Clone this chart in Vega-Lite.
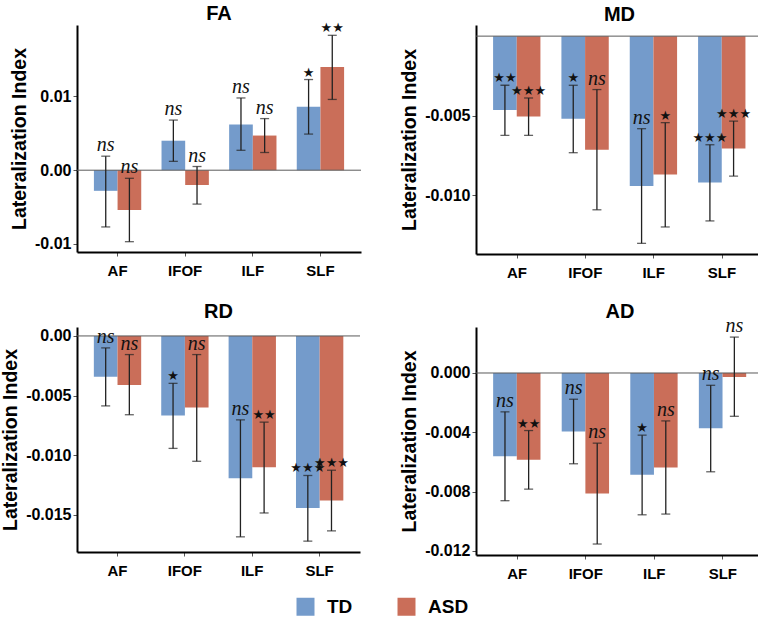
{
  "$schema": "https://vega.github.io/schema/vega-lite/v6.json",
  "background": "white",
  "padding": {"left": 0, "top": 4, "right": 0, "bottom": 0},
  "columns": 2,
  "spacing": {"column": 37, "row": 21},
  "datasets": {
    "li": [
      {"measure": "FA", "tract": "AF", "group": "TD", "mean": -0.0028, "lo": -0.0077, "hi": 0.0019, "sig": "ns"},
      {"measure": "FA", "tract": "AF", "group": "ASD", "mean": -0.0054, "lo": -0.0097, "hi": -0.0011, "sig": "ns"},
      {"measure": "FA", "tract": "IFOF", "group": "TD", "mean": 0.0040, "lo": 0.0012, "hi": 0.0068, "sig": "ns"},
      {"measure": "FA", "tract": "IFOF", "group": "ASD", "mean": -0.0020, "lo": -0.0046, "hi": 0.0005, "sig": "ns"},
      {"measure": "FA", "tract": "ILF", "group": "TD", "mean": 0.0062, "lo": 0.0027, "hi": 0.0098, "sig": "ns"},
      {"measure": "FA", "tract": "ILF", "group": "ASD", "mean": 0.0047, "lo": 0.0024, "hi": 0.0070, "sig": "ns"},
      {"measure": "FA", "tract": "SLF", "group": "TD", "mean": 0.0086, "lo": 0.0049, "hi": 0.0123, "sig": "★"},
      {"measure": "FA", "tract": "SLF", "group": "ASD", "mean": 0.0140, "lo": 0.0096, "hi": 0.0183, "sig": "★★"},
      {"measure": "MD", "tract": "AF", "group": "TD", "mean": -0.00464, "lo": -0.00624, "hi": -0.00309, "sig": "★★"},
      {"measure": "MD", "tract": "AF", "group": "ASD", "mean": -0.00506, "lo": -0.00624, "hi": -0.00389, "sig": "★★★"},
      {"measure": "MD", "tract": "IFOF", "group": "TD", "mean": -0.00519, "lo": -0.00733, "hi": -0.00309, "sig": "★"},
      {"measure": "MD", "tract": "IFOF", "group": "ASD", "mean": -0.00714, "lo": -0.01092, "hi": -0.00336, "sig": "ns"},
      {"measure": "MD", "tract": "ILF", "group": "TD", "mean": -0.00943, "lo": -0.01303, "hi": -0.00582, "sig": "ns"},
      {"measure": "MD", "tract": "ILF", "group": "ASD", "mean": -0.00870, "lo": -0.01200, "hi": -0.00544, "sig": "★"},
      {"measure": "MD", "tract": "SLF", "group": "TD", "mean": -0.00920, "lo": -0.01162, "hi": -0.00683, "sig": "★★★"},
      {"measure": "MD", "tract": "SLF", "group": "ASD", "mean": -0.00706, "lo": -0.00880, "hi": -0.00534, "sig": "★★★"},
      {"measure": "RD", "tract": "AF", "group": "TD", "mean": -0.00342, "lo": -0.00586, "hi": -0.00100, "sig": "ns"},
      {"measure": "RD", "tract": "AF", "group": "ASD", "mean": -0.00411, "lo": -0.00660, "hi": -0.00156, "sig": "ns"},
      {"measure": "RD", "tract": "IFOF", "group": "TD", "mean": -0.00667, "lo": -0.00942, "hi": -0.00397, "sig": "★"},
      {"measure": "RD", "tract": "IFOF", "group": "ASD", "mean": -0.00600, "lo": -0.01050, "hi": -0.00156, "sig": "ns"},
      {"measure": "RD", "tract": "ILF", "group": "TD", "mean": -0.01192, "lo": -0.01683, "hi": -0.00703, "sig": "ns"},
      {"measure": "RD", "tract": "ILF", "group": "ASD", "mean": -0.01100, "lo": -0.01483, "hi": -0.00722, "sig": "★★"},
      {"measure": "RD", "tract": "SLF", "group": "TD", "mean": -0.01442, "lo": -0.01719, "hi": -0.01169, "sig": "★★★"},
      {"measure": "RD", "tract": "SLF", "group": "ASD", "mean": -0.01378, "lo": -0.01633, "hi": -0.01125, "sig": "★★★"},
      {"measure": "AD", "tract": "AF", "group": "TD", "mean": -0.00561, "lo": -0.00861, "hi": -0.00262, "sig": "ns"},
      {"measure": "AD", "tract": "AF", "group": "ASD", "mean": -0.00585, "lo": -0.00783, "hi": -0.00388, "sig": "★★"},
      {"measure": "AD", "tract": "IFOF", "group": "TD", "mean": -0.00395, "lo": -0.00612, "hi": -0.00177, "sig": "ns"},
      {"measure": "AD", "tract": "IFOF", "group": "ASD", "mean": -0.00812, "lo": -0.01153, "hi": -0.00473, "sig": "ns"},
      {"measure": "AD", "tract": "ILF", "group": "TD", "mean": -0.00686, "lo": -0.00956, "hi": -0.00419, "sig": "★"},
      {"measure": "AD", "tract": "ILF", "group": "ASD", "mean": -0.00637, "lo": -0.00951, "hi": -0.00323, "sig": "ns"},
      {"measure": "AD", "tract": "SLF", "group": "TD", "mean": -0.00372, "lo": -0.00666, "hi": -0.00083, "sig": "ns"},
      {"measure": "AD", "tract": "SLF", "group": "ASD", "mean": -0.00027, "lo": -0.00292, "hi": 0.00242, "sig": "ns"}
    ]
  },
  "concat": [
    {
      "title": {"text": "FA", "offset": -2},
      "width": 284, "height": 227,
      "data": {"name": "li"},
      "transform": [{"filter": {"field": "measure", "equal": "FA"}}],
      "layer": [
        {
          "mark": {"type": "bar"},
          "encoding": {
            "x": {"field": "tract", "type": "nominal", "sort": ["AF", "IFOF", "ILF", "SLF"], "scale": {"paddingInner": 0.3, "paddingOuter": 0.25}, "axis": {"title": null}},
            "xOffset": {"field": "group", "sort": ["TD", "ASD"], "scale": {"paddingInner": 0}},
            "y": {"field": "mean", "type": "quantitative", "scale": {"domain": [-0.0111, 0.0197], "nice": false, "zero": false}, "axis": {"title": "Lateralization Index", "values": [-0.01, 0, 0.01], "format": ".2f"}},
            "color": {"field": "group", "type": "nominal", "scale": {"domain": ["TD", "ASD"], "range": ["#749BCB", "#CA6E59"]},
              "legend": {"orient": "none", "direction": "horizontal", "legendX": 219, "legendY": 572, "title": null, "symbolType": "square", "symbolSize": 324, "symbolStrokeWidth": 0, "symbolOpacity": 1, "labelFont": "Liberation Sans", "labelFontWeight": "bold", "labelFontSize": 19, "labelColor": "#000", "labelOffset": 12, "columnPadding": 44}}
          }
        },
        {
          "data": {"values": [{"base": 0}]},
          "mark": {"type": "rule", "color": "#5a5a5a", "strokeWidth": 1},
          "encoding": {"y": {"field": "base", "type": "quantitative"}}
        },
        {
          "mark": {"type": "rule", "color": "#222", "strokeWidth": 1.3},
          "encoding": {
            "x": {"field": "tract", "type": "nominal", "sort": ["AF", "IFOF", "ILF", "SLF"]},
            "xOffset": {"field": "group", "sort": ["TD", "ASD"]},
            "y": {"field": "lo", "type": "quantitative"}, "y2": {"field": "hi"}
          }
        },
        {
          "mark": {"type": "tick", "color": "#222", "size": 9, "thickness": 1.3},
          "encoding": {
            "x": {"field": "tract", "type": "nominal", "sort": ["AF", "IFOF", "ILF", "SLF"]},
            "xOffset": {"field": "group", "sort": ["TD", "ASD"]},
            "y": {"field": "lo", "type": "quantitative"}
          }
        },
        {
          "mark": {"type": "tick", "color": "#222", "size": 9, "thickness": 1.3},
          "encoding": {
            "x": {"field": "tract", "type": "nominal", "sort": ["AF", "IFOF", "ILF", "SLF"]},
            "xOffset": {"field": "group", "sort": ["TD", "ASD"]},
            "y": {"field": "hi", "type": "quantitative"}
          }
        },
        {
          "transform": [{"filter": "datum.sig == 'ns'"}],
          "mark": {"type": "text", "font": "Liberation Serif", "fontStyle": "italic", "fontSize": 20, "baseline": "alphabetic", "dy": -5, "color": "#111"},
          "encoding": {
            "x": {"field": "tract", "type": "nominal", "sort": ["AF", "IFOF", "ILF", "SLF"]},
            "xOffset": {"field": "group", "sort": ["TD", "ASD"]},
            "y": {"field": "hi", "type": "quantitative"},
            "text": {"field": "sig"}
          }
        },
        {
          "transform": [{"filter": "datum.sig != 'ns'"}],
          "mark": {"type": "text", "font": "DejaVu Sans", "fontSize": 13, "baseline": "alphabetic", "dy": -3, "color": "#111"},
          "encoding": {
            "x": {"field": "tract", "type": "nominal", "sort": ["AF", "IFOF", "ILF", "SLF"]},
            "xOffset": {"field": "group", "sort": ["TD", "ASD"]},
            "y": {"field": "hi", "type": "quantitative"},
            "text": {"field": "sig"}
          }
        }
      ]
    },
    {
      "title": {"text": "MD", "offset": 0},
      "width": 287, "height": 229,
      "data": {"name": "li"},
      "transform": [{"filter": {"field": "measure", "equal": "MD"}}],
      "layer": [
        {
          "mark": {"type": "bar"},
          "encoding": {
            "x": {"field": "tract", "type": "nominal", "sort": ["AF", "IFOF", "ILF", "SLF"], "scale": {"paddingInner": 0.3, "paddingOuter": 0.25}, "axis": {"title": null}},
            "xOffset": {"field": "group", "sort": ["TD", "ASD"], "scale": {"paddingInner": 0}},
            "y": {"field": "mean", "type": "quantitative", "scale": {"domain": [-0.0137, 0.0007], "nice": false, "zero": false}, "axis": {"title": "Lateralization Index", "values": [-0.01, -0.005], "format": ".3f"}},
            "color": {"field": "group", "type": "nominal"}
          }
        },
        {
          "data": {"values": [{"base": 0}]},
          "mark": {"type": "rule", "color": "#5a5a5a", "strokeWidth": 1},
          "encoding": {"y": {"field": "base", "type": "quantitative"}}
        },
        {
          "mark": {"type": "rule", "color": "#222", "strokeWidth": 1.3},
          "encoding": {
            "x": {"field": "tract", "type": "nominal", "sort": ["AF", "IFOF", "ILF", "SLF"]},
            "xOffset": {"field": "group", "sort": ["TD", "ASD"]},
            "y": {"field": "lo", "type": "quantitative"}, "y2": {"field": "hi"}
          }
        },
        {
          "mark": {"type": "tick", "color": "#222", "size": 9, "thickness": 1.3},
          "encoding": {
            "x": {"field": "tract", "type": "nominal", "sort": ["AF", "IFOF", "ILF", "SLF"]},
            "xOffset": {"field": "group", "sort": ["TD", "ASD"]},
            "y": {"field": "lo", "type": "quantitative"}
          }
        },
        {
          "mark": {"type": "tick", "color": "#222", "size": 9, "thickness": 1.3},
          "encoding": {
            "x": {"field": "tract", "type": "nominal", "sort": ["AF", "IFOF", "ILF", "SLF"]},
            "xOffset": {"field": "group", "sort": ["TD", "ASD"]},
            "y": {"field": "hi", "type": "quantitative"}
          }
        },
        {
          "transform": [{"filter": "datum.sig == 'ns'"}],
          "mark": {"type": "text", "font": "Liberation Serif", "fontStyle": "italic", "fontSize": 20, "baseline": "alphabetic", "dy": -5, "color": "#111"},
          "encoding": {
            "x": {"field": "tract", "type": "nominal", "sort": ["AF", "IFOF", "ILF", "SLF"]},
            "xOffset": {"field": "group", "sort": ["TD", "ASD"]},
            "y": {"field": "hi", "type": "quantitative"},
            "text": {"field": "sig"}
          }
        },
        {
          "transform": [{"filter": "datum.sig != 'ns'"}],
          "mark": {"type": "text", "font": "DejaVu Sans", "fontSize": 13, "baseline": "alphabetic", "dy": -3, "color": "#111"},
          "encoding": {
            "x": {"field": "tract", "type": "nominal", "sort": ["AF", "IFOF", "ILF", "SLF"]},
            "xOffset": {"field": "group", "sort": ["TD", "ASD"]},
            "y": {"field": "hi", "type": "quantitative"},
            "text": {"field": "sig"}
          }
        }
      ]
    },
    {
      "title": {"text": "RD", "offset": 5},
      "width": 283, "height": 225,
      "data": {"name": "li"},
      "transform": [{"filter": {"field": "measure", "equal": "RD"}}],
      "layer": [
        {
          "mark": {"type": "bar"},
          "encoding": {
            "x": {"field": "tract", "type": "nominal", "sort": ["AF", "IFOF", "ILF", "SLF"], "scale": {"paddingInner": 0.3, "paddingOuter": 0.25}, "axis": {"title": null}},
            "xOffset": {"field": "group", "sort": ["TD", "ASD"], "scale": {"paddingInner": 0}},
            "y": {"field": "mean", "type": "quantitative", "scale": {"domain": [-0.0181, 0.00075], "nice": false, "zero": false}, "axis": {"title": "Lateralization Index", "values": [-0.015, -0.01, -0.005, 0], "labelExpr": "datum.value == 0 ? '0.00' : format(datum.value, '.3f')"}},
            "color": {"field": "group", "type": "nominal"}
          }
        },
        {
          "data": {"values": [{"base": 0}]},
          "mark": {"type": "rule", "color": "#5a5a5a", "strokeWidth": 1},
          "encoding": {"y": {"field": "base", "type": "quantitative"}}
        },
        {
          "mark": {"type": "rule", "color": "#222", "strokeWidth": 1.3},
          "encoding": {
            "x": {"field": "tract", "type": "nominal", "sort": ["AF", "IFOF", "ILF", "SLF"]},
            "xOffset": {"field": "group", "sort": ["TD", "ASD"]},
            "y": {"field": "lo", "type": "quantitative"}, "y2": {"field": "hi"}
          }
        },
        {
          "mark": {"type": "tick", "color": "#222", "size": 9, "thickness": 1.3},
          "encoding": {
            "x": {"field": "tract", "type": "nominal", "sort": ["AF", "IFOF", "ILF", "SLF"]},
            "xOffset": {"field": "group", "sort": ["TD", "ASD"]},
            "y": {"field": "lo", "type": "quantitative"}
          }
        },
        {
          "mark": {"type": "tick", "color": "#222", "size": 9, "thickness": 1.3},
          "encoding": {
            "x": {"field": "tract", "type": "nominal", "sort": ["AF", "IFOF", "ILF", "SLF"]},
            "xOffset": {"field": "group", "sort": ["TD", "ASD"]},
            "y": {"field": "hi", "type": "quantitative"}
          }
        },
        {
          "transform": [{"filter": "datum.sig == 'ns'"}],
          "mark": {"type": "text", "font": "Liberation Serif", "fontStyle": "italic", "fontSize": 20, "baseline": "alphabetic", "dy": -5, "color": "#111"},
          "encoding": {
            "x": {"field": "tract", "type": "nominal", "sort": ["AF", "IFOF", "ILF", "SLF"]},
            "xOffset": {"field": "group", "sort": ["TD", "ASD"]},
            "y": {"field": "hi", "type": "quantitative"},
            "text": {"field": "sig"}
          }
        },
        {
          "transform": [{"filter": "datum.sig != 'ns'"}],
          "mark": {"type": "text", "font": "DejaVu Sans", "fontSize": 13, "baseline": "alphabetic", "dy": -3, "color": "#111"},
          "encoding": {
            "x": {"field": "tract", "type": "nominal", "sort": ["AF", "IFOF", "ILF", "SLF"]},
            "xOffset": {"field": "group", "sort": ["TD", "ASD"]},
            "y": {"field": "hi", "type": "quantitative"},
            "text": {"field": "sig"}
          }
        }
      ]
    },
    {
      "title": {"text": "AD", "offset": -6},
      "width": 288, "height": 228,
      "data": {"name": "li"},
      "transform": [{"filter": {"field": "measure", "equal": "AD"}}],
      "layer": [
        {
          "mark": {"type": "bar"},
          "encoding": {
            "x": {"field": "tract", "type": "nominal", "sort": ["AF", "IFOF", "ILF", "SLF"], "scale": {"paddingInner": 0.3, "paddingOuter": 0.25}, "axis": {"title": null}},
            "xOffset": {"field": "group", "sort": ["TD", "ASD"], "scale": {"paddingInner": 0}},
            "y": {"field": "mean", "type": "quantitative", "scale": {"domain": [-0.01227, 0.0031], "nice": false, "zero": false}, "axis": {"title": "Lateralization Index", "values": [-0.012, -0.008, -0.004, 0], "format": ".3f"}},
            "color": {"field": "group", "type": "nominal"}
          }
        },
        {
          "data": {"values": [{"base": 0}]},
          "mark": {"type": "rule", "color": "#5a5a5a", "strokeWidth": 1},
          "encoding": {"y": {"field": "base", "type": "quantitative"}}
        },
        {
          "mark": {"type": "rule", "color": "#222", "strokeWidth": 1.3},
          "encoding": {
            "x": {"field": "tract", "type": "nominal", "sort": ["AF", "IFOF", "ILF", "SLF"]},
            "xOffset": {"field": "group", "sort": ["TD", "ASD"]},
            "y": {"field": "lo", "type": "quantitative"}, "y2": {"field": "hi"}
          }
        },
        {
          "mark": {"type": "tick", "color": "#222", "size": 9, "thickness": 1.3},
          "encoding": {
            "x": {"field": "tract", "type": "nominal", "sort": ["AF", "IFOF", "ILF", "SLF"]},
            "xOffset": {"field": "group", "sort": ["TD", "ASD"]},
            "y": {"field": "lo", "type": "quantitative"}
          }
        },
        {
          "mark": {"type": "tick", "color": "#222", "size": 9, "thickness": 1.3},
          "encoding": {
            "x": {"field": "tract", "type": "nominal", "sort": ["AF", "IFOF", "ILF", "SLF"]},
            "xOffset": {"field": "group", "sort": ["TD", "ASD"]},
            "y": {"field": "hi", "type": "quantitative"}
          }
        },
        {
          "transform": [{"filter": "datum.sig == 'ns'"}],
          "mark": {"type": "text", "font": "Liberation Serif", "fontStyle": "italic", "fontSize": 20, "baseline": "alphabetic", "dy": -5, "color": "#111"},
          "encoding": {
            "x": {"field": "tract", "type": "nominal", "sort": ["AF", "IFOF", "ILF", "SLF"]},
            "xOffset": {"field": "group", "sort": ["TD", "ASD"]},
            "y": {"field": "hi", "type": "quantitative"},
            "text": {"field": "sig"}
          }
        },
        {
          "transform": [{"filter": "datum.sig != 'ns'"}],
          "mark": {"type": "text", "font": "DejaVu Sans", "fontSize": 13, "baseline": "alphabetic", "dy": -3, "color": "#111"},
          "encoding": {
            "x": {"field": "tract", "type": "nominal", "sort": ["AF", "IFOF", "ILF", "SLF"]},
            "xOffset": {"field": "group", "sort": ["TD", "ASD"]},
            "y": {"field": "hi", "type": "quantitative"},
            "text": {"field": "sig"}
          }
        }
      ]
    }
  ],
  "config": {
    "locale": {"number": {"decimal": ".", "thousands": ",", "grouping": [3], "currency": ["$", ""], "minus": "-"}},
    "view": {"stroke": null},
    "title": {"font": "Liberation Sans", "fontWeight": "bold", "fontSize": 20, "color": "#000", "anchor": "middle"},
    "axis": {"grid": false, "labelFont": "Liberation Sans", "labelFontWeight": "bold", "labelColor": "#000", "titleFont": "Liberation Sans", "titleFontWeight": "bold", "titleColor": "#000", "domainColor": "#000", "domainWidth": 2, "tickColor": "#555", "tickSize": 4},
    "axisY": {"labelFontSize": 16, "titleFontSize": 19.5, "labelPadding": 2, "titlePadding": 5},
    "axisX": {"labelFontSize": 15, "labelAngle": 0, "labelPadding": 7, "ticks": true}
  }
}
